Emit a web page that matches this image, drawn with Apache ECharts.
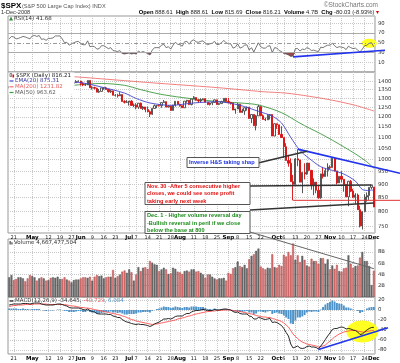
<!DOCTYPE html>
<html><head><meta charset="utf-8">
<script src="https://cdn.jsdelivr.net/npm/echarts@6/dist/echarts.min.js"></script>
<style>html,body{margin:0;padding:0;background:#fff}#c{width:400px;height:363px}</style>
</head><body><div id="c"></div>
<script>
const dates = [
'04-17','04-18','04-21','04-22','04-23','04-24','04-25','04-28','04-29','04-30',
'05-01','05-02','05-05','05-06','05-07','05-08','05-09','05-12','05-13','05-14','05-15','05-16','05-19','05-20','05-21','05-22','05-23','05-27','05-28','05-29','05-30',
'06-02','06-03','06-04','06-05','06-06','06-09','06-10','06-11','06-12','06-13','06-16','06-17','06-18','06-19','06-20','06-23','06-24','06-25','06-26','06-27','06-30',
'07-01','07-02','07-03','07-07','07-08','07-09','07-10','07-11','07-14','07-15','07-16','07-17','07-18','07-21','07-22','07-23','07-24','07-25','07-28','07-29','07-30','07-31',
'08-01','08-04','08-05','08-06','08-07','08-08','08-11','08-12','08-13','08-14','08-15','08-18','08-19','08-20','08-21','08-22','08-25','08-26','08-27','08-28','08-29',
'09-02','09-03','09-04','09-05','09-08','09-09','09-10','09-11','09-12','09-15','09-16','09-17','09-18','09-19','09-22','09-23','09-24','09-25','09-26','09-29','09-30',
'10-01','10-02','10-03','10-06','10-07','10-08','10-09','10-10','10-13','10-14','10-15','10-16','10-17','10-20','10-21','10-22','10-23','10-24','10-27','10-28','10-29','10-30','10-31',
'11-03','11-04','11-05','11-06','11-07','11-10','11-11','11-12','11-13','11-14','11-17','11-18','11-19','11-20','11-21','11-24','11-25','11-26','11-28',
'12-01'];

const opens = [
1364.7,1365.6,1390.3,1388.2,1375.9,1379.9,1388.8,1397.8,1396.4,1390.9,
1385.6,1409.3,1413.9,1407.5,1418.3,1392.6,1397.7,1388.3,1403.6,1403.0,1408.7,1423.6,1425.4,1426.6,1413.4,1390.7,1394.4,1375.9,1385.4,1390.8,1398.3,
1400.4,1385.7,1377.7,1377.2,1404.1,1360.7,1361.8,1358.4,1335.5,1339.9,1360.0,1360.1,1350.9,1337.8,1342.8,1317.9,1318.0,1314.3,1322.0,1283.2,1278.4,
1280.0,1284.9,1261.5,1262.9,1252.3,1273.7,1244.7,1253.4,1239.5,1228.3,1214.9,1245.4,1260.3,1260.7,1260.0,1277.0,1282.2,1252.5,1257.8,1234.4,1263.2,1284.3,
1267.4,1260.3,1249.0,1284.9,1289.2,1266.1,1296.3,1305.3,1289.6,1285.8,1292.9,1298.2,1278.6,1266.7,1274.5,1277.7,1292.2,1266.8,1271.5,1281.7,1300.7,
1282.8,1277.6,1275.0,1236.8,1242.3,1267.8,1224.5,1232.0,1249.1,1251.7,1192.7,1213.6,1156.4,1206.5,1255.1,1207.1,1188.2,1185.9,1209.2,1213.3,1106.4,
1166.4,1161.1,1114.3,1099.2,1056.9,996.2,984.9,909.9,899.2,1003.4,998.0,907.8,946.4,940.6,985.4,955.1,896.8,908.1,876.8,848.9,940.5,930.1,954.1,
968.8,966.3,1005.8,952.8,904.9,931.0,919.2,899.0,852.3,911.3,873.3,850.8,859.1,806.6,752.4,800.0,851.8,857.4,887.7,
888.6];
const highs = [
1368.4,1395.9,1390.3,1388.2,1387.4,1397.7,1399.1,1402.9,1397.1,1404.6,
1410.1,1422.7,1415.5,1421.6,1420.2,1404.1,1397.7,1404.7,1410.7,1420.2,1424.4,1425.8,1440.2,1426.6,1419.7,1399.1,1394.4,1387.4,1391.8,1406.3,1404.5,
1400.4,1393.4,1388.2,1404.1,1404.1,1370.6,1366.8,1360.6,1353.0,1360.0,1364.3,1366.6,1350.9,1347.7,1342.8,1323.2,1326.0,1335.6,1322.0,1290.3,1290.7,
1285.7,1290.7,1272.0,1273.9,1274.2,1277.4,1257.7,1253.4,1255.2,1234.4,1245.5,1267.0,1263.0,1267.7,1277.4,1291.2,1282.2,1263.2,1260.1,1264.4,1284.9,1284.3,
1270.5,1260.3,1284.9,1291.7,1289.2,1297.9,1313.2,1305.3,1294.0,1300.8,1300.1,1300.2,1278.6,1276.7,1279.0,1293.1,1292.2,1275.5,1287.2,1300.7,1300.7,
1303.0,1280.6,1275.0,1243.1,1274.4,1268.7,1243.7,1249.1,1255.2,1251.7,1214.0,1213.6,1211.1,1265.1,1255.4,1214.0,1197.4,1215.8,1215.8,1213.3,1169.0,
1167.0,1161.1,1153.8,1099.2,1072.9,1021.1,1005.3,936.4,1006.9,1044.3,999.0,947.7,984.4,985.4,985.4,955.1,922.8,908.1,893.8,941.0,969.0,963.2,984.4,
975.8,1007.5,1005.8,952.8,931.0,951.4,919.2,899.0,912.8,916.4,882.3,865.9,864.6,820.5,801.2,862.1,868.9,887.7,896.3,
888.6];
const lows = [
1357.3,1365.6,1379.3,1370.1,1369.8,1371.1,1379.4,1394.4,1386.7,1384.5,
1383.1,1406.3,1404.4,1397.1,1391.0,1391.0,1383.1,1386.2,1396.6,1403.0,1406.9,1414.3,1421.6,1406.9,1388.8,1390.2,1372.0,1373.1,1378.2,1388.6,1398.1,
1373.1,1370.1,1371.7,1377.2,1359.9,1350.6,1351.5,1335.2,1331.3,1339.9,1349.1,1350.5,1333.3,1330.4,1317.5,1310.9,1304.4,1314.3,1283.1,1272.0,1274.9,
1260.7,1261.5,1252.0,1240.7,1242.8,1244.6,1236.8,1225.4,1225.8,1200.4,1211.4,1245.4,1246.7,1255.7,1248.8,1276.0,1252.5,1251.8,1234.4,1234.4,1255.0,1265.1,
1254.5,1247.5,1249.0,1276.0,1263.2,1262.1,1296.3,1288.0,1274.9,1276.6,1292.9,1274.5,1263.1,1261.5,1263.2,1277.7,1264.6,1263.2,1270.7,1281.7,1282.8,
1272.2,1265.6,1236.8,1217.3,1242.3,1224.5,1221.6,1211.5,1233.8,1192.7,1169.3,1155.9,1133.5,1206.5,1205.6,1187.8,1179.8,1185.9,1187.5,1106.4,1106.4,
1140.8,1111.4,1098.1,1007.6,996.2,970.0,909.2,839.8,899.2,972.1,907.8,865.8,918.7,937.0,952.5,879.2,858.4,865.8,845.9,845.3,922.3,930.1,930.0,
958.8,966.3,952.2,899.7,904.9,907.2,871.4,851.6,818.7,869.9,848.0,826.8,806.2,747.8,741.0,800.0,834.9,841.4,881.2,
815.7];
const closes = [
1365.6,1390.3,1388.2,1375.9,1379.9,1388.8,1397.8,1396.4,1390.9,1385.6,
1409.3,1413.9,1407.5,1418.3,1392.6,1397.7,1388.3,1403.6,1403.0,1408.7,1423.6,1425.4,1426.6,1413.4,1390.7,1394.4,1375.9,1385.4,1390.8,1398.3,1400.4,
1385.7,1377.7,1377.2,1404.1,1360.7,1361.8,1358.4,1335.5,1339.9,1360.0,1360.1,1350.9,1337.8,1342.8,1317.9,1318.0,1314.3,1322.0,1283.2,1278.4,1280.0,
1284.9,1261.5,1262.9,1252.3,1273.7,1244.7,1253.4,1239.5,1228.3,1214.9,1245.4,1260.3,1260.7,1260.0,1277.0,1282.2,1252.5,1257.8,1234.4,1263.2,1284.3,1267.4,
1260.3,1249.0,1284.9,1289.2,1266.1,1296.3,1305.3,1289.6,1285.8,1292.9,1298.2,1278.6,1266.7,1274.5,1277.7,1292.2,1266.8,1271.5,1281.7,1300.7,1282.8,
1277.6,1275.0,1236.8,1242.3,1267.8,1224.5,1232.0,1249.1,1251.7,1192.7,1213.6,1156.4,1206.5,1255.1,1207.1,1188.2,1185.9,1209.2,1213.3,1106.4,1166.4,
1161.1,1114.3,1099.2,1056.9,996.2,984.9,909.9,899.2,1003.4,998.0,907.8,946.4,940.6,985.4,955.1,896.8,908.1,876.8,848.9,940.5,930.1,954.1,968.8,
966.3,1005.8,952.8,904.9,931.0,919.2,899.0,852.3,911.3,873.3,850.8,859.1,806.6,752.4,800.0,851.8,857.4,887.7,896.2,
816.2];

// volume in billions of shares
const volumes = [
3.5,3.9,3.0,3.2,3.5,3.5,3.3,2.8,3.3,3.9,
3.7,3.5,2.9,3.3,3.5,3.3,2.9,3.0,3.4,3.5,3.4,3.6,3.2,3.2,3.5,3.1,2.9,2.6,3.0,3.1,3.1,
3.3,3.5,3.5,3.4,3.6,2.9,3.6,3.9,3.7,3.8,3.3,3.5,3.6,3.6,4.8,3.4,3.7,4.0,4.5,4.7,4.3,
4.9,4.4,2.9,4.0,5.3,4.6,5.2,5.3,5.0,6.4,6.1,5.8,5.7,4.6,4.9,5.2,4.9,4.1,4.2,5.2,5.0,4.5,
4.4,4.1,4.6,4.7,4.5,4.9,4.9,4.5,4.6,4.3,4.0,3.4,4.0,4.0,3.6,3.3,3.1,3.3,3.3,3.4,2.9,
4.3,4.1,5.1,5.3,6.3,5.5,5.3,5.7,5.1,6.7,7.3,7.6,8.2,8.6,5.4,5.1,4.9,5.2,5.1,7.6,5.3,
5.2,5.7,5.5,7.5,7.2,8.0,7.4,9.5,6.6,7.4,6.2,7.3,6.6,5.6,5.4,6.8,6.4,6.4,5.9,6.9,6.9,5.9,6.7,
4.9,5.6,5.0,5.7,4.6,4.5,5.1,5.2,7.4,5.9,5.2,5.5,5.6,7.0,8.0,6.4,6.4,5.5,2.1,
4.67];

const rsi = [
58,63,62,58,59,61,63,62,60,58,
64,65,63,65,57,58,55,59,59,60,64,64,64,58,50,51,45,48,50,52,53,
48,46,46,54,42,43,42,37,38,44,44,41,38,40,34,33,32,34,28,27,28,
29,27,28,27,33,30,32,30,28,25,35,40,40,40,45,47,40,42,37,45,51,47,
46,43,52,53,47,54,56,52,51,53,54,49,46,48,49,53,46,47,50,55,50,
48,48,39,41,48,39,41,45,46,35,40,31,41,50,42,39,39,43,44,30,40,
39,34,32,28,27,25,22,23,38,38,33,37,36,40,38,34,35,33,32,41,40,43,45,
45,49,44,40,42,41,40,36,43,40,38,39,35,31,37,44,45,49,50,
41.68];

const macd = [
10,11,12,12,12,12,13,13,13,12,
13,14,14,14,12,11,10,10,10,10,11,12,12,11,9,8,5,4,4,4,4,
3,1,0,2,-1,-3,-4,-7,-8,-8,-8,-8,-9,-9,-12,-13,-15,-15,-19,-22,-24,
-25,-27,-28,-29,-28,-29,-29,-30,-31,-33,-31,-28,-26,-24,-21,-18,-18,-17,-18,-16,-13,-12,
-12,-12,-9,-7,-7,-4,-2,-1,-1,0,1,0,-1,-1,-1,1,0,0,1,2,2,
1,0,-3,-5,-4,-7,-8,-8,-8,-12,-13,-18,-18,-15,-16,-18,-19,-18,-17,-25,-24,
-25,-28,-31,-37,-45,-52,-68,-76,-74,-72,-76,-77,-76,-73,-72,-74,-74,-75,-78,-72,-66,-59,-52,
-46,-39,-37,-37,-35,-34,-35,-38,-37,-38,-40,-41,-44,-49,-48,-44,-40,-37,-35,
-34.645];
const signal = [
7,8,9,9,10,10,10,11,11,11,
11,12,12,12,12,12,12,11,11,11,11,11,11,11,11,10,9,8,8,7,6,
5,5,4,4,3,2,1,0,-1,-2,-3,-4,-5,-6,-7,-8,-9,-10,-12,-13,-15,
-17,-19,-20,-22,-23,-24,-25,-26,-27,-28,-29,-28,-28,-27,-26,-25,-24,-23,-22,-21,-20,-18,
-17,-16,-15,-13,-12,-11,-9,-8,-7,-6,-5,-4,-3,-3,-2,-2,-1,-1,-1,0,0,
0,0,-1,-2,-2,-3,-4,-5,-6,-7,-8,-9,-11,-12,-13,-14,-14,-15,-15,-17,-18,
-20,-21,-23,-26,-30,-34,-41,-48,-53,-57,-61,-64,-66,-68,-69,-70,-71,-72,-74,-73,-72,-70,-66,
-62,-58,-54,-51,-48,-46,-44,-43,-42,-41,-41,-41,-42,-43,-44,-44,-43,-42,-41,
-40.729];
const hist = [
3,3,3,3,2,2,3,2,2,1,
2,2,2,2,0,-1,-2,-1,-1,-1,0,1,1,0,-2,-2,-4,-4,-4,-3,-2,
-2,-4,-4,-2,-4,-5,-5,-7,-7,-6,-5,-4,-4,-3,-5,-5,-6,-5,-7,-9,-9,
-8,-8,-8,-7,-5,-5,-4,-4,-4,-5,-2,0,2,3,5,7,6,6,4,5,7,6,
5,4,6,6,5,7,7,7,6,6,6,4,2,2,1,3,1,1,2,2,2,
1,0,-2,-3,-2,-4,-4,-3,-2,-5,-5,-9,-7,-3,-3,-4,-5,-3,-2,-8,-6,
-5,-7,-8,-11,-15,-18,-27,-28,-21,-15,-15,-13,-10,-5,-3,-4,-3,-3,-4,1,6,11,14,
16,19,17,14,13,12,9,5,5,3,1,0,-2,-6,-4,0,3,5,6,
6.084];

// moving averages (date, value)
const ema20 = [['05-15',1394],['05-30',1392],['06-13',1365],['06-27',1330],['07-07',1300],['07-15',1275],['07-28',1262],['08-11',1275],['08-25',1282],['09-09',1262],['09-19',1230],['09-29',1205],['10-03',1170],['10-09',1100],['10-15',1040],['10-21',1005],['10-28',970],['11-04',955],['11-11',940],['11-18',912],['11-21',880],['11-26',876],['11-28',878],['12-01',875.31]];
const ma50 = [['05-15',1360],['05-30',1378],['06-13',1386],['06-27',1375],['07-09',1350],['07-21',1325],['08-04',1305],['08-14',1293],['08-25',1283],['09-09',1275],['09-19',1264],['10-03',1223],['10-15',1169],['10-21',1145],['10-28',1117],['11-04',1087],['11-11',1056],['11-18',1025],['11-25',990],['12-01',963.62]];
const ma200 = [['04-17',1445],['05-01',1438],['05-15',1432],['05-30',1425],['06-13',1414],['06-27',1403],['07-14',1392],['07-28',1382],['08-11',1372],['08-25',1362],['09-09',1350],['09-23',1338],['10-07',1330],['10-21',1312],['11-04',1290],['11-18',1262],['12-01',1231.82]];

const priceTicks = [750,800,850,900,950,1000,1050,1100,1150,1200,1250,1300,1350,1400];
const rsiTicks = [10,30,50,70,90];
const volTicks = [2,4,6,8];
const macdTicks = [20,0,-20,-40,-60,-80];
const dateLabels = {'04-21':'21','05-01':'May','05-12':'12','05-19':'19','05-27':'27','06-02':'Jun','06-09':'9','06-16':'16','06-23':'23','07-01':'Jul','07-07':'7','07-14':'14','07-21':'21','07-28':'28','08-01':'Aug','08-11':'11','08-18':'18','08-25':'25','09-02':'Sep','09-08':'8','09-15':'15','09-22':'22','10-01':'Oct','10-06':'6','10-13':'13','10-20':'20','10-27':'27','11-03':'Nov','11-10':'10','11-17':'17','11-24':'24','12-01':'Dec'};

// annotation anchors (data space)
const priceTrend = [['10-14',1046],['11-04',1010]];
const rsiTrend = [['10-10',21],['11-20',31]];
const macdTrend = [['10-27',-79],['11-20',-53]];
const supportLevel = ['10-10',839.8];

const ln = Math.log;
const FONT = 'DejaVu Sans';
const isLbl = (i, v) => Object.prototype.hasOwnProperty.call(dateLabels, v);

function xAx(gi, show) {
  return {
    type: 'category', gridIndex: gi, data: dates, boundaryGap: true,
    axisLine: {show: false}, axisTick: {show: false},
    axisLabel: {show: show, interval: isLbl, hideOverlap: false, margin: 2, fontSize: 5, color: '#222', fontFamily: FONT,
      formatter: v => { const t = dateLabels[v] || ''; return /^[A-Z]/.test(t) ? '{b|' + t + '}' : t; },
      rich: {b: {fontWeight: 'bold', fontSize: 5.5, fontFamily: FONT, color: '#000'}}},
    splitLine: {show: true, interval: isLbl, alignWithLabel: true, lineStyle: {color: '#c8c8c8', type: [1, 1], width: 1}}
  };
}
function yAx(gi, min, max, labelVals, tickVals, fmt) {
  return {
    type: 'value', gridIndex: gi, position: 'right', min: min, max: max,
    axisLine: {show: false},
    axisTick: {show: false, customValues: tickVals},
    axisLabel: {customValues: labelVals, fontSize: 5.3, color: '#333', margin: 3, fontFamily: FONT, formatter: fmt, showMinLabel: true, showMaxLabel: true},
    splitLine: {show: true, lineStyle: {color: '#c8c8c8', type: [1, 1], width: 1}}
  };
}
const gridBase = {left: 8, right: 25, show: true, borderColor: '#999', borderWidth: 1, containLabel: false, outerBoundsMode: 'none'};

const candleData = dates.map((d, i) => [ln(opens[i]), ln(closes[i]), ln(lows[i]), ln(highs[i])]);
const volData = volumes.map((v, i) => {
  const prev = i > 0 ? closes[i - 1] : opens[i];
  const down = closes[i] < prev;
  return {value: v, itemStyle: {color: down ? '#d87272' : '#6e6e6e', borderColor: down ? '#a84040' : '#444', borderWidth: 0.4}};
});
const maLine = (arr) => arr.map(p => [p[0], ln(p[1])]);

const option = {
  animation: false,
  backgroundColor: '#fff',
  textStyle: {fontFamily: FONT},
  grid: [
    Object.assign({}, gridBase, {top: 16, height: 56}),
    Object.assign({}, gridBase, {top: 72, height: 161}),
    Object.assign({}, gridBase, {top: 239, height: 58}),
    Object.assign({}, gridBase, {top: 297, height: 57})
  ],
  xAxis: [xAx(0, false), xAx(1, true), xAx(2, false), xAx(3, true)],
  yAxis: [
    yAx(0, -10, 105, rsiTicks, [10, 90], v => String(v)),
    yAx(1, ln(730), ln(1456), priceTicks.map(ln), priceTicks.map(ln), v => String(Math.round(Math.exp(v)))),
    yAx(2, 0, 10.3, volTicks, volTicks, v => v + 'B'),
    yAx(3, -88, 26, macdTicks, macdTicks, v => String(v))
  ],
  series: [
    {type: 'line', xAxisIndex: 0, yAxisIndex: 0, data: rsi.map(v => Math.min(v, 30)), symbol: 'none', silent: true,
      lineStyle: {width: 0, opacity: 0}, areaStyle: {origin: 30, color: '#9a4848', opacity: 1}, z: 2},
    {type: 'line', xAxisIndex: 0, yAxisIndex: 0, data: rsi, symbol: 'none', lineStyle: {color: '#555', width: 0.8}, z: 4,
      markLine: {silent: true, symbol: 'none', label: {show: false}, animation: false,
        data: [
          {yAxis: 70, lineStyle: {color: '#aaa', type: 'solid', width: 1}},
          {yAxis: 30, lineStyle: {color: '#aaa', type: 'solid', width: 1}},
          {yAxis: 50, lineStyle: {color: '#999', type: [4, 2, 1, 2], width: 1}}
        ]}},
    {type: 'candlestick', xAxisIndex: 1, yAxisIndex: 1, data: candleData, barWidth: 1.7,
      itemStyle: {color: '#ffffff', color0: '#e81010', borderColor: '#444', borderColor0: '#d80c0c', borderWidth: 0.9}, z: 4},
    {type: 'line', xAxisIndex: 1, yAxisIndex: 1, data: maLine(ma200), symbol: 'none', smooth: 0.3, lineStyle: {color: '#f07070', width: 0.9}, z: 3},
    {type: 'line', xAxisIndex: 1, yAxisIndex: 1, data: maLine(ma50), symbol: 'none', smooth: 0.3, lineStyle: {color: '#3c9a3c', width: 0.9}, z: 3},
    {type: 'line', xAxisIndex: 1, yAxisIndex: 1, data: maLine(ema20), symbol: 'none', smooth: 0.3, lineStyle: {color: '#4444cc', width: 0.9}, z: 5},
    {type: 'bar', xAxisIndex: 2, yAxisIndex: 2, data: volData, barWidth: 1.9, z: 3},
    {type: 'bar', xAxisIndex: 3, yAxisIndex: 3, data: hist, barWidth: 1.9, itemStyle: {color: '#4d93c9'}, z: 3},
    {type: 'line', xAxisIndex: 3, yAxisIndex: 3, data: signal, symbol: 'none', lineStyle: {color: '#ff5050', width: 0.9}, z: 4},
    {type: 'line', xAxisIndex: 3, yAxisIndex: 3, data: macd, symbol: 'none', lineStyle: {color: '#111', width: 0.9}, z: 5}
  ]
};

const chart = echarts.init(document.getElementById('c'), null, {renderer: 'canvas'});
chart.setOption(option);

function P(gi, x, y) {
  const xi = typeof x === 'string' ? dates.indexOf(x) : x;
  return chart.convertToPixel({xAxisIndex: gi, yAxisIndex: gi}, [xi, y]);
}
function trend(gi, pts, tf, xEnd) {
  const a = P(gi, pts[0][0], tf(pts[0][1])), b = P(gi, pts[1][0], tf(pts[1][1]));
  const k = (b[1] - a[1]) / (b[0] - a[0]);
  return {x1: a[0], y1: a[1], x2: xEnd, y2: a[1] + k * (xEnd - a[0]), k: k, a: a};
}
const id = v => v;
const g = [];
const T = (x, y, text, font, fill, align, extra) => g.push(Object.assign({type: 'text', x: x, y: y, z: 100,
  style: {text: text, font: font, fill: fill, align: align || 'left', textAlign: align || 'left', verticalAlign: 'middle', textVerticalAlign: 'middle'}}, extra || {}));
const Ln = (x1, y1, x2, y2, color, w, z) => g.push({type: 'line', z: z || 90, shape: {x1: x1, y1: y1, x2: x2, y2: y2}, style: {stroke: color, lineWidth: w}});
const Box = (x, y, w, h) => g.push({type: 'rect', z: 95, shape: {x: x, y: y, width: w, height: h}, style: {fill: '#fff', stroke: '#555', lineWidth: 1}});

// yellow highlight ellipses (below series)
const e1 = P(0, 156, 49);
g.push({type: 'ellipse', z: 1, shape: {cx: e1[0], cy: e1[1], rx: 7.5, ry: 4.5}, style: {fill: '#ffff22'}});
const e2 = P(3, 153, -43);
g.push({type: 'ellipse', z: 1, shape: {cx: e2[0], cy: e2[1], rx: 16, ry: 11}, style: {fill: '#ffff22'}});

// trend lines
const tp = trend(1, priceTrend, ln, 400);
Ln(tp.x1, tp.y1, tp.x2, tp.y2, '#2233ee', 1.6, 80);
const tr = trend(0, rsiTrend, id, 385);
Ln(tr.x1, tr.y1, tr.x2, tr.y2, '#2233ee', 1.6, 80);
const tm = trend(3, macdTrend, id, 388);
Ln(tm.x1, tm.y1, tm.x2, tm.y2, '#2233ee', 1.6, 80);
const sp = P(1, supportLevel[0], ln(supportLevel[1]));
Ln(sp[0], sp[1], 400, sp[1], '#e03030', 1, 80);

// callouts
const cRed = P(1, '11-28', ln(897));
Ln(250, 186, cRed[0], cRed[1], '#333', 1.6);
const cGreen = P(1, '12-01', ln(830));
Ln(250, 210, cGreen[0], cGreen[1], '#333', 1.6);
const cVol = P(2, '12-01', 4.67);
Ln(250, 232, cVol[0], cVol[1] - 2, '#666', 1);
const hsX = P(1, '10-20', ln(1000))[0];
Ln(258, 163, hsX, tp.y1 + tp.k * (hsX - tp.x1), '#333', 1.6);

Box(187, 157.5, 72, 10);
T(189, 162.5, 'Inverse H&S taking shap', 'bold 5.6px "Liberation Sans"', '#1a2ee0');
Box(145, 182.5, 105, 22);
T(147, 186.5, 'Nov. 30 -After 5 consecutive higher', 'bold 5.6px "Liberation Sans"', '#e01010');
T(147, 193.8, 'closes, we could see some profit', 'bold 5.6px "Liberation Sans"', '#e01010');
T(147, 201.1, 'taking early next week', 'bold 5.6px "Liberation Sans"', '#e01010');
Box(145, 211.5, 105, 22);
T(147, 215.7, 'Dec. 1 - Higher volume reversal day', 'bold 5.6px "Liberation Sans"', '#1c8a1c');
T(147, 223.1, '-Bullish reversal in peril if we close', 'bold 5.6px "Liberation Sans"', '#1c8a1c');
T(147, 230.5, 'below the base at 800', 'bold 5.6px "Liberation Sans"', '#1c8a1c');

// header
T(1, 6, '$SPX', 'bold 8px "Liberation Sans"', '#000');
T(22, 6, '(S&P 500 Large Cap Index) INDX', '5.6px "Liberation Sans"', '#555');
T(1, 12.5, '1-Dec-2008', '5.6px "Liberation Sans"', '#333');
T(378, 5, '\u00a9StockCharts.com', '6.5px "Liberation Sans"', '#777', 'right');
g.push({type: 'text', x: 379, y: 12.5, z: 100, style: {
  text: '{b|Open} 888.61  {b|High} 888.61  {b|Low} 815.69  {b|Close} 816.21  {b|Volume} 4.7B  {b|Chg} -80.03 (-8.93%) {r|\u25BE}',
  font: '5.8px "Liberation Sans"', fill: '#222', align: 'right', textAlign: 'right', verticalAlign: 'middle', textVerticalAlign: 'middle',
  rich: {b: {font: 'bold 5.8px "Liberation Sans"', fill: '#000'}, r: {font: '6px "Liberation Sans"', fill: '#d00'}}}});

// panel legends
const lf = '5.5px "DejaVu Sans"';
g.push({type: 'polygon', z: 100, shape: {points: [[9, 20.5], [11, 16.5], [13, 20.5]]}, style: {fill: '#3a8a3a'}});
T(14, 18.5, 'RSI(14) 41.68', lf, '#333');
g.push({type: 'rect', z: 99, shape: {x: 8.5, y: 72.5, width: 66, height: 22}, style: {fill: '#fff'}});
g.push({type: 'rect', z: 100, shape: {x: 10, y: 73.5, width: 1.6, height: 3}, style: {fill: '#fff', stroke: '#333', lineWidth: 0.6}});
g.push({type: 'rect', z: 100, shape: {x: 12.5, y: 74.5, width: 1.6, height: 3}, style: {fill: '#d01010'}});
T(16, 75.5, '$SPX (Daily) 816.21', lf, '#222');
Ln(9.5, 81, 13.5, 81, '#4444cc', 1.2, 100);
T(15, 81, 'EMA(20) 875.31', lf, '#333399');
Ln(9.5, 86.8, 13.5, 86.8, '#f07070', 1.2, 100);
T(15, 86.8, 'MA(200) 1231.82', lf, '#e06060');
Ln(9.5, 92.5, 13.5, 92.5, '#3c9a3c', 1.2, 100);
T(15, 92.5, 'MA(50) 963.62', lf, '#555');
g.push({type: 'rect', z: 100, shape: {x: 9.5, y: 241, width: 1.3, height: 3.5}, style: {fill: '#555'}});
g.push({type: 'rect', z: 100, shape: {x: 11.3, y: 242.2, width: 1.3, height: 2.3}, style: {fill: '#555'}});
T(14, 243, 'Volume 4,667,477,504', lf, '#333');
Ln(9.5, 301, 13.5, 301, '#111', 1.2, 100);
g.push({type: 'text', x: 15, y: 301, z: 100, style: {
  text: 'MACD(12,26,9) -34.645, {r|-40.729,} {b|6.084}', font: lf, fill: '#333', verticalAlign: 'middle', textVerticalAlign: 'middle',
  rich: {r: {font: lf, fill: '#f06060'}, b: {font: lf, fill: '#4d93c9'}}}});

chart.setOption({graphic: {elements: g}});
</script></body></html>
